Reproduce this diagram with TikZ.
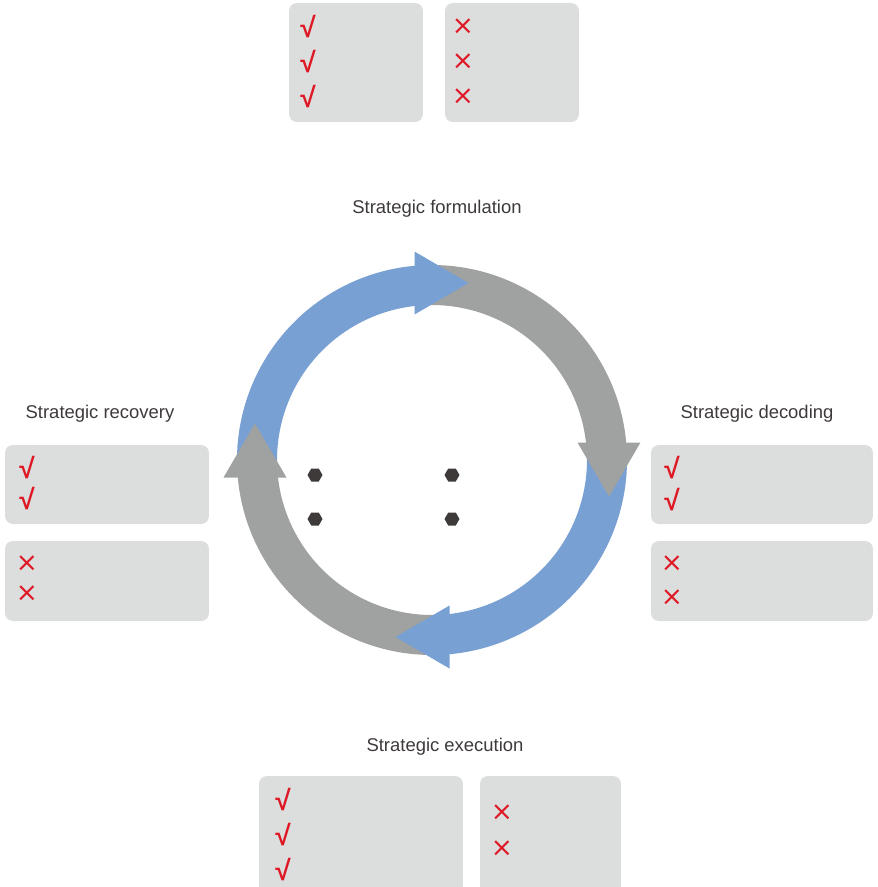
\documentclass[tikz,border=0pt]{standalone}
\usepackage{fontspec}
\setmainfont{Liberation Sans}
\newfontfamily\symfont{DejaVu Sans}
\usetikzlibrary{shapes.geometric}

\definecolor{ringblue}{RGB}{121,160,211}
\definecolor{ringgray}{RGB}{160,162,161}
\definecolor{boxgray}{RGB}{220,221,221}
\definecolor{markred}{RGB}{222,24,36}
\definecolor{darktext}{RGB}{62,58,57}

\tikzset{
  box/.style={fill=boxgray, rounded corners=4.5pt, inner sep=0pt},
  title/.style={text=darktext, font=\fontsize{10.5}{12}\selectfont},
  yes/.style={text=markred, inner sep=0pt, font=\bfseries\fontsize{16}{16}\selectfont},
  no/.style={text=markred, inner sep=0pt, font=\symfont\fontsize{15}{15}\selectfont},
  dot/.style={regular polygon, regular polygon sides=6, fill=darktext, minimum size=0.3cm, inner sep=0pt},
}

\begin{document}
\begin{tikzpicture}[x=0.02cm, y=0.02cm]
\useasboundingbox (0,0) rectangle (877,-887);
\clip (0,0) rectangle (877,-887);

% Caixas
\node[box, minimum width=2.68cm, minimum height=2.38cm] (topyes) at (356,-62.5) {};
\node[box, minimum width=2.68cm, minimum height=2.38cm] (topno) at (512,-62.5) {};
\node[box, minimum width=4.08cm, minimum height=1.58cm] (leftyes) at (107,-484.5) {};
\node[box, minimum width=4.08cm, minimum height=1.60cm] (leftno) at (107,-581) {};
\node[box, minimum width=4.44cm, minimum height=1.58cm] (rightyes) at (762,-484.5) {};
\node[box, minimum width=4.44cm, minimum height=1.60cm] (rightno) at (762,-581) {};
\node[box, minimum width=4.08cm, minimum height=2.48cm] (botyes) at (361,-838) {};
\node[box, minimum width=2.82cm, minimum height=2.48cm] (botno) at (550.5,-838) {};

% Marcas
\foreach \y [count=\i] in {27,62,97} {
  \node[yes] (topy\i) at (308,-\y) {√};
  \node[no] (topn\i) at (463,-\y) {×};
}
\foreach \y [count=\i] in {468,499} \node[yes] (lefty\i) at (27,-\y) {√};
\foreach \y [count=\i] in {564,594} \node[no] (leftn\i) at (27,-\y) {×};
\foreach \y [count=\i] in {468,500} \node[yes] (righty\i) at (672,-\y) {√};
\foreach \y [count=\i] in {564,598} \node[no] (rightn\i) at (672,-\y) {×};
\foreach \y [count=\i] in {800,835,870} \node[yes] (boty\i) at (283,-\y) {√};
\foreach \y [count=\i] in {813,849} \node[no] (botn\i) at (502,-\y) {×};

% Titulos
\node[title] (formulation) at (437,-209) {Strategic formulation};
\node[title] (recovery) at (100,-414) {Strategic recovery};
\node[title] (decoding) at (757,-414) {Strategic decoding};
\node[title] (execution) at (445,-747) {Strategic execution};

% Anel
\begin{scope}[shift={(432,-460)}]
\foreach \a/\col in {95.6/ringblue, 5.6/ringgray, -84.4/ringblue, -174.4/ringgray} {
  \pgfmathsetmacro{\s}{\a+89}
  \pgfmathsetmacro{\e}{\a-1.6}
  \fill[\col] (\s:195) arc[start angle=\s, end angle=\e, radius=195]
    -- (\e:155) arc[start angle=\e, end angle=\s, radius=155] -- cycle;
}
\foreach \r/\col in {0/ringblue, -90/ringgray, -180/ringblue, 90/ringgray}
  \fill[\col, rotate=\r] (-17.5,208.5) -- (36.5,177) -- (-17.5,145.5) -- cycle;
\end{scope}

% Pontos
\node[dot] (d1) at (315,-475) {};
\node[dot] (d2) at (452,-475) {};
\node[dot] (d3) at (315,-519) {};
\node[dot] (d4) at (452,-519) {};
\end{tikzpicture}
\end{document}
